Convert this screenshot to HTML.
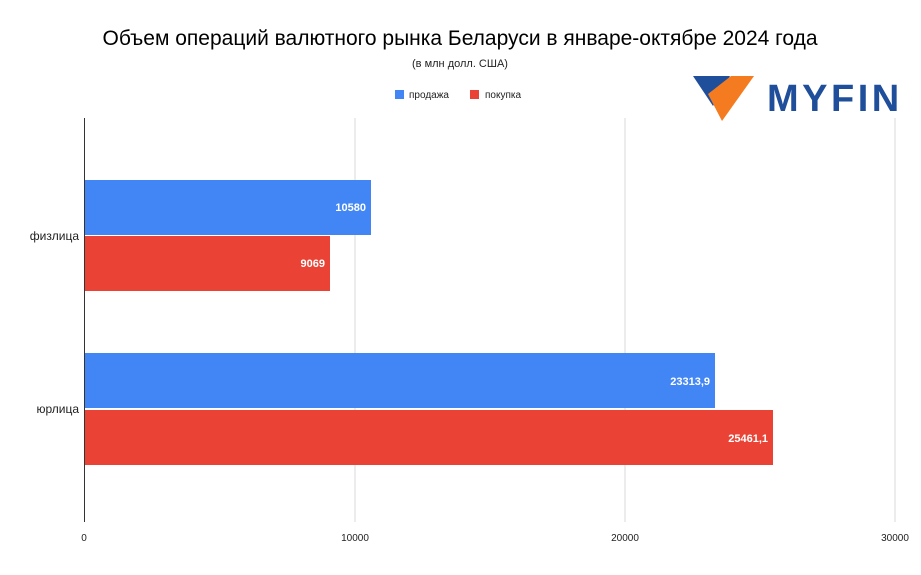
<!DOCTYPE html>
<html><head><meta charset="utf-8"><style>
body{margin:0;background:#fff;}
svg text{font-family:"Liberation Sans",Arial,sans-serif;}
</style></head><body>
<svg width="921" height="570" xmlns="http://www.w3.org/2000/svg">
<rect width="921" height="570" fill="#fff"/>
<text x="460" y="45" font-size="21" text-anchor="middle" fill="#000">Объем операций валютного рынка Беларуси в январе-октябре 2024 года</text>
<text x="460" y="67" font-size="11" text-anchor="middle" fill="#222">(в млн долл. США)</text>
<rect x="395" y="90" width="9" height="9" fill="#4285f4"/>
<text x="409" y="98" font-size="10" fill="#222">продажа</text>
<rect x="470" y="90" width="9" height="9" fill="#ea4335"/>
<text x="485" y="98" font-size="10" fill="#222">покупка</text>
<polygon points="693,76 730,76 713,106" fill="#1f4e9a"/>
<polygon points="754,76 731,76 708,94 722,121" fill="#f47b20"/>
<text x="767" y="111" font-size="38" font-weight="bold" fill="#1f4e9a" letter-spacing="3.5">MYFIN</text>
<g stroke="#d9d9d9" stroke-width="1">
<line x1="355" y1="118" x2="355" y2="522"/>
<line x1="625" y1="118" x2="625" y2="522"/>
<line x1="895" y1="118" x2="895" y2="522"/>
</g>
<rect x="85" y="180" width="286" height="55" fill="#4285f4"/>
<rect x="85" y="236" width="245" height="55" fill="#ea4335"/>
<rect x="85" y="353" width="630" height="55" fill="#4285f4"/>
<rect x="85" y="410" width="688" height="55" fill="#ea4335"/>
<line x1="84.5" y1="118" x2="84.5" y2="522" stroke="#333" stroke-width="1"/>
<g font-size="11" font-weight="bold" fill="#fff" text-anchor="end">
<text x="366" y="211">10580</text>
<text x="325" y="267">9069</text>
<text x="710" y="385">23313,9</text>
<text x="768" y="442">25461,1</text>
</g>
<g font-size="12" fill="#222" text-anchor="end">
<text x="79" y="240">физлица</text>
<text x="79" y="413">юрлица</text>
</g>
<g font-size="10" fill="#222" text-anchor="middle">
<text x="84" y="541">0</text>
<text x="355" y="541">10000</text>
<text x="625" y="541">20000</text>
<text x="895" y="541">30000</text>
</g>
</svg>
</body></html>
